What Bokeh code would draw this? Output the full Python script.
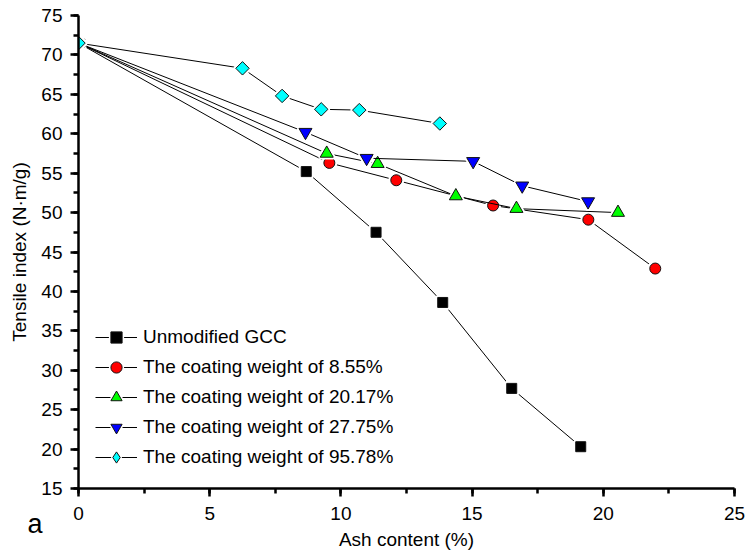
import numpy as np
from bokeh.plotting import figure
from bokeh.models import Range1d, SingleIntervalTicker, Legend, LegendItem, Label
from bokeh.embed import file_html
from bokeh.resources import INLINE

# ---- data ----
series_names = [
    "Unmodified GCC",
    "The coating weight of 8.55%",
    "The coating weight of 20.17%",
    "The coating weight of 27.75%",
    "The coating weight of 95.78%",
]
ash_gcc = [0, 8.68, 11.34, 13.88, 16.51, 19.14]
ti_gcc = [71.5, 55.2, 47.5, 38.6, 27.7, 20.3]
ash_855 = [0, 9.56, 12.11, 15.80, 19.43, 21.98]
ti_855 = [71.5, 56.3, 54.1, 50.9, 49.1, 42.9]
ash_2017 = [0, 9.46, 11.40, 14.38, 16.69, 20.56]
ti_2017 = [71.5, 57.5, 56.2, 52.1, 50.5, 50.0]
ash_2775 = [0, 8.65, 10.98, 15.04, 16.91, 19.42]
ti_2775 = [71.5, 60.2, 56.9, 56.5, 53.4, 51.4]
ash_9578 = [0, 6.25, 7.76, 9.25, 10.70, 13.77]
ti_9578 = [71.5, 68.3, 64.8, 63.1, 63.0, 61.3]

FONT = "Liberation Sans"

p = figure(width=749, height=552, output_backend="svg", toolbar_location=None,
           x_range=Range1d(0, 25), y_range=Range1d(15, 75),
           min_border_left=78, min_border_right=14, min_border_top=15, min_border_bottom=62)
p.outline_line_color = None
p.xgrid.visible = False
p.ygrid.visible = False
p.background_fill_color = "white"
p.border_fill_color = "white"

for ax in (p.xaxis[0], p.yaxis[0]):
    ax.axis_line_width = 2.5
    ax.major_tick_line_width = 2.5
    ax.minor_tick_line_width = 2.5
    ax.major_tick_out = 8
    ax.major_tick_in = 0
    ax.minor_tick_out = 5
    ax.minor_tick_in = 0
    ax.major_label_text_font = FONT
    ax.major_label_text_font_size = "19px"
    ax.major_label_text_color = "black"
    ax.axis_label_text_font = FONT
    ax.axis_label_text_font_size = "19px"
    ax.axis_label_text_font_style = "normal"
    ax.axis_label_text_color = "black"

p.xaxis.ticker = SingleIntervalTicker(interval=5, num_minor_ticks=2)
p.yaxis.ticker = SingleIntervalTicker(interval=5, num_minor_ticks=2)
p.xaxis.axis_label = "Ash content (%)"
p.yaxis.axis_label = "Tensile index (N·m/g)"
p.xaxis.major_label_standoff = 10
p.yaxis.major_label_standoff = 8
p.xaxis.axis_label_standoff = 6
p.yaxis.axis_label_standoff = 8

specs = [
    (ash_gcc, ti_gcc, "square", "#000000", 10, 0.0),
    (ash_855, ti_855, "circle", "#FF0000", 11, 0.0),
    (ash_2017, ti_2017, "triangle", "#00FF00", 13, 0.0),
    (ash_2775, ti_2775, "inverted_triangle", "#0000FF", 13, 0.0),
    (ash_9578, ti_9578, "square", "#00FFFF", 9.5, np.pi / 4),
]

items = []
for (xs, ys, marker, color, size, ang), name in zip(specs, series_names):
    ln = p.line(xs, ys, line_color="black", line_width=1)
    halo = p.scatter(xs, ys, marker=marker, size=size + 1, angle=ang,
                     fill_color="white", line_color="white", line_width=4)
    mk = p.scatter(xs, ys, marker=marker, size=size, angle=ang,
                   fill_color=color, line_color="#111111", line_width=1)
    if ang != 0.0:
        # legend swatch for the rotated-square (diamond) series
        halo = p.scatter([np.nan], [np.nan], marker="diamond", size=size,
                         fill_color="white", line_color="white", line_width=4)
        mk = p.scatter([np.nan], [np.nan], marker="diamond", size=size,
                       fill_color=color, line_color="#111111", line_width=1)
    items.append(LegendItem(label=name, renderers=[ln, halo, mk]))

legend = Legend(items=items, location=(17, 17), glyph_width=42, glyph_height=28,
                label_height=28, spacing=2, padding=0, margin=0, label_standoff=6,
                border_line_color=None, background_fill_alpha=0,
                label_text_font=FONT, label_text_font_size="19px",
                label_text_color="black")
p.add_layout(legend, "center")

# panel tag "a" (placed in a side panel so it is not clipped to the frame)
tag = Label(x=29 - 736, y=-35, x_units="screen", y_units="screen", text="a",
            text_font=FONT, text_font_size="27px", text_color="black",
            text_align="left", text_baseline="alphabetic")
p.add_layout(tag, "right")

open("out.html", "w").write(file_html(p, INLINE))
